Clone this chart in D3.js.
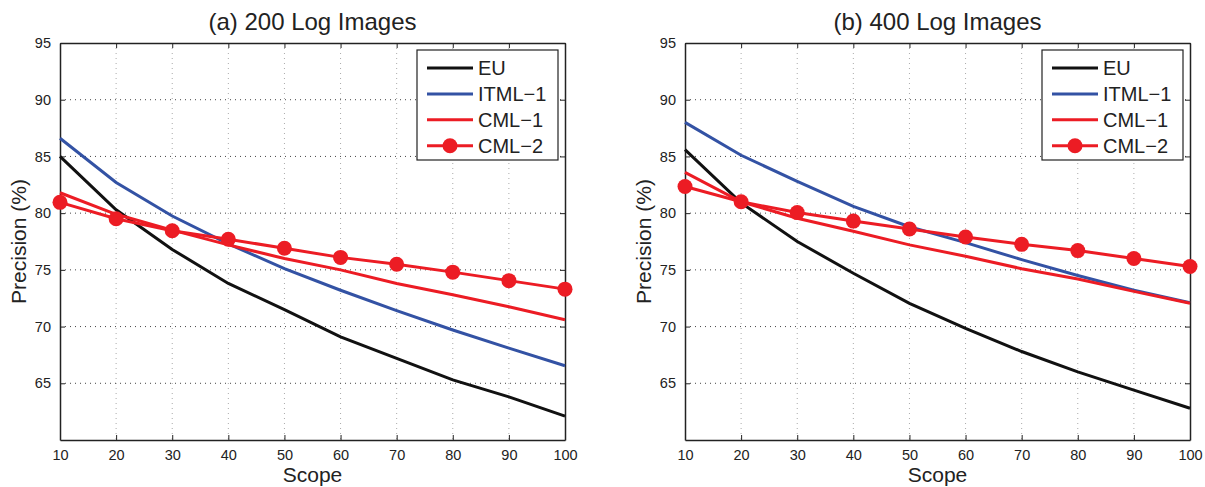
<!DOCTYPE html>
<html>
<head>
<meta charset="utf-8">
<script src="https://cdn.jsdelivr.net/npm/d3@7"></script>
<style>
  body { margin: 0; background: #fff; }
  text { font-family: "Liberation Sans", Arial, sans-serif; fill: #222; }
</style>
</head>
<body>
<svg id="chart" width="1205" height="487"></svg>
<script>
var scope = [10, 20, 30, 40, 50, 60, 70, 80, 90, 100];
var yTicks = [65, 70, 75, 80, 85, 90, 95];

// panel (a) 200 log images
var euA    = [85.0, 80.3, 76.8, 73.8, 71.5, 69.1, 67.2, 65.3, 63.8, 62.1];
var itmlA  = [86.6, 82.7, 79.75, 77.3, 75.1, 73.2, 71.4, 69.7, 68.1, 66.55];
var cml1A  = [81.8, 79.9, 78.5, 77.2, 76.0, 75.0, 73.8, 72.8, 71.75, 70.6];
var cml2A  = [80.95, 79.5, 78.45, 77.7, 76.9, 76.1, 75.5, 74.8, 74.05, 73.3];

// panel (b) 400 log images
var euB    = [85.6, 80.9, 77.5, 74.7, 72.05, 69.85, 67.8, 66.0, 64.4, 62.8];
var itmlB  = [88.0, 85.1, 82.8, 80.6, 78.8, 77.4, 75.9, 74.5, 73.2, 72.1];
var cml1B  = [83.6, 81.0, 79.55, 78.4, 77.2, 76.2, 75.1, 74.2, 73.1, 72.05];
var cml2B  = [82.35, 81.0, 80.05, 79.3, 78.6, 77.9, 77.25, 76.7, 76.0, 75.3];

var seriesNames = ["EU", "ITML\u22121", "CML\u22121", "CML\u22122"];
var colors = ["#111111", "#3352a4", "#ec1c24", "#ec1c24"];

var panels = [
    { title: "(a) 200 Log Images", left: 60, data: [euA, itmlA, cml1A, cml2A] },
    { title: "(b) 400 Log Images", left: 685, data: [euB, itmlB, cml1B, cml2B] }
];

var svg = d3.select("#chart");
var plotTop = 43, plotBottom = 440, plotW = 505;

var drawPanel = function (p) {
    var g = svg.append("g").attr("transform", "translate(" + p.left + "," + plotTop + ")");
    var height = plotBottom - plotTop;

    var x = d3.scaleLinear().domain([10, 100]).range([0, plotW]);
    var y = d3.scaleLinear().domain([60, 95]).range([height, 0]);

    // grid
    g.selectAll(".vgrid").data(scope.slice(1, -1)).enter().append("line")
        .attr("x1", function (d) { return x(d); })
        .attr("x2", function (d) { return x(d); })
        .attr("y1", 0).attr("y2", height)
        .attr("stroke", "#aaa").attr("stroke-width", 1)
        .attr("stroke-dasharray", "1,4");
    g.selectAll(".hgrid").data(yTicks.slice(0, -1)).enter().append("line")
        .attr("y1", function (d) { return y(d); })
        .attr("y2", function (d) { return y(d); })
        .attr("x1", 0).attr("x2", plotW)
        .attr("stroke", "#444").attr("stroke-width", 1)
        .attr("stroke-dasharray", "1,4");

    // axes
    var xAx = g.append("g")
        .attr("transform", "translate(0," + height + ")")
        .call(d3.axisBottom(x).tickValues(scope).tickSizeInner(-5).tickSizeOuter(0).tickPadding(10));
    var xTop = g.append("g")
        .call(d3.axisTop(x).tickValues(scope).tickSizeInner(-5).tickSizeOuter(0).tickFormat(""));
    var yAx = g.append("g")
        .call(d3.axisLeft(y).tickValues(yTicks).tickSizeInner(-5).tickSizeOuter(0).tickPadding(9));
    var yRight = g.append("g")
        .attr("transform", "translate(" + plotW + ",0)")
        .call(d3.axisRight(y).tickValues(yTicks).tickSizeInner(-5).tickSizeOuter(0).tickFormat(""));
    [xAx, xTop, yAx, yRight].forEach(function (a) {
        a.selectAll("path").attr("stroke", "#222").attr("stroke-width", 1.5);
        a.selectAll("line").attr("stroke", "#222");
        a.selectAll("text").style("font-size", "14.5px").style("fill", "#222");
    });

    // lines
    var line = d3.line()
        .x(function (d, i) { return x(scope[i]); })
        .y(function (d) { return y(d); });

    p.data.forEach(function (vals, k) {
        g.append("path")
            .attr("d", line(vals))
            .attr("fill", "none")
            .attr("stroke", colors[k])
            .attr("stroke-width", 3);
    });
    g.selectAll(".mk").data(p.data[3]).enter().append("circle")
        .attr("cx", function (d, i) { return x(scope[i]); })
        .attr("cy", function (d) { return y(d); })
        .attr("r", 7.5)
        .attr("fill", colors[3]);

    // legend
    var lg = g.append("g").attr("transform", "translate(" + (plotW - 148) + ",7)");
    lg.append("rect")
        .attr("width", 141).attr("height", 110)
        .attr("fill", "#fff").attr("stroke", "#222").attr("stroke-width", 1.2);
    seriesNames.forEach(function (name, k) {
        var ly = 18 + k * 25.9;
        lg.append("line")
            .attr("x1", 10).attr("x2", 56)
            .attr("y1", ly).attr("y2", ly)
            .attr("stroke", colors[k]).attr("stroke-width", 3);
        if (k === 3) {
            lg.append("circle").attr("cx", 33).attr("cy", ly).attr("r", 7.5).attr("fill", colors[3]);
        }
        lg.append("text")
            .attr("x", 61).attr("y", ly + 7)
            .style("font-size", "20px")
            .text(name);
    });

    // labels
    svg.append("text")
        .attr("x", p.left + plotW / 2).attr("y", 30)
        .attr("text-anchor", "middle")
        .style("font-size", "24px")
        .text(p.title);
    svg.append("text")
        .attr("x", p.left + plotW / 2).attr("y", 482)
        .attr("text-anchor", "middle")
        .style("font-size", "21px")
        .text("Scope");
    svg.append("text")
        .attr("transform", "translate(" + (p.left - 34) + "," + ((plotTop + plotBottom) / 2) + ") rotate(-90)")
        .attr("text-anchor", "middle")
        .style("font-size", "21px")
        .text("Precision (%)");
};

panels.forEach(drawPanel);
</script>
</body>
</html>
